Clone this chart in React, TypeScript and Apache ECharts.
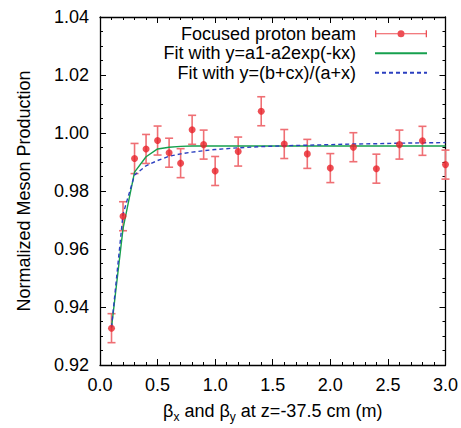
import React, { useEffect, useRef } from "react";
import * as echarts from "echarts";

const betaValues = [0.1, 0.2, 0.3, 0.4, 0.5, 0.6, 0.7, 0.8, 0.9, 1.0, 1.2, 1.4, 1.6, 1.8, 2.0, 2.2, 2.4, 2.6, 2.8, 3.0];
const mesonValues = [0.9327, 0.9713, 0.9912, 0.9945, 0.9974, 0.9932, 0.9896, 1.0011, 0.996, 0.9869, 0.9936, 1.0075, 0.9962, 0.9928, 0.9879, 0.9951, 0.9877, 0.996, 0.9973, 0.9891];
const mesonErrors = [0.005, 0.005, 0.0052, 0.005, 0.005, 0.005, 0.005, 0.005, 0.005, 0.005, 0.005, 0.005, 0.005, 0.005, 0.005, 0.005, 0.005, 0.005, 0.005, 0.005];
const expFitValues = [0.933, 0.967, 0.9865, 0.9918, 0.9945, 0.9951, 0.9954, 0.9955, 0.9955, 0.9955, 0.9955, 0.9955, 0.9955, 0.9955, 0.9955, 0.9955, 0.9955, 0.9955, 0.9955, 0.9955];
const ratFitValues = [0.933, 0.972, 0.9855, 0.9887, 0.9905, 0.992, 0.9928, 0.9934, 0.9939, 0.9943, 0.9949, 0.9953, 0.9956, 0.9958, 0.996, 0.9962, 0.9963, 0.9965, 0.9966, 0.9967];

const seriesNames = ["Focused proton beam", "Fit with y=a1-a2exp(-kx)", "Fit with y=(b+cx)/(a+x)"];

const FONT = "Liberation Sans, Arial, Helvetica, sans-serif";
const RED = "#e8232b";
const RED_BAR = "#ef6f74";
const GREEN = "#16a04e";
const BLUE = "#2b3fc0";

const errIcon =
  "path://M0,1.5H1.3V4.4H22.6V5.6H1.3V8.5H0Z M29.4,4.4H50.7V1.5H52V8.5H50.7V5.6H29.4Z M22.5,5A3.5,3.5 0 1 1 29.5,5A3.5,3.5 0 1 1 22.5,5Z";

export default function App() {
  const ref = useRef<HTMLDivElement>(null);
  useEffect(() => {
    if (!ref.current) return;
    const chart = echarts.init(ref.current, null, { renderer: "svg" });
    const pts = betaValues.map((x, i) => [x, mesonValues[i]]);
    const errData = betaValues.map((x, i) => [x, mesonValues[i], mesonErrors[i]]);
    const axisCommon = { min: 0, max: 3, interval: 0.5 };
    const yCommon = { min: 0.92, max: 1.04, interval: 0.02 };
    const lineCol = { lineStyle: { color: "#000", width: 1.3 } };
    const tickIn = {
      show: true,
      inside: true,
      length: 6,
      lineStyle: { color: "#000", width: 1 },
    };
    const hiddenSym = { color: "rgba(0,0,0,0)", borderWidth: 0 };
    chart.setOption({
      animation: false,
      backgroundColor: "#fff",
      textStyle: { fontFamily: FONT },
      grid: { left: 100, right: 10, top: 17, bottom: 60, containLabel: false },
      legend: {
        orient: "vertical",
        right: 33,
        top: 24,
        align: "right",
        padding: 0,
        itemGap: 0,
        itemWidth: 52,
        itemHeight: 8,
        selectedMode: false,
        textStyle: { fontSize: 18, lineHeight: 19.5, color: "#000", fontFamily: FONT, padding: [0, 14, 0, 0] },
        data: [
          { name: seriesNames[0], icon: errIcon, itemStyle: { color: RED } },
          { name: seriesNames[1], itemStyle: hiddenSym },
          { name: seriesNames[2], itemStyle: hiddenSym },
        ],
      },
      xAxis: [
        {
          type: "value",
          ...axisCommon,
          axisLine: { show: true, onZero: false, ...lineCol },
          axisTick: tickIn,
          minorTick: { show: true, splitNumber: 5, length: 3, lineStyle: { color: "#000", width: 1 } },
          splitLine: { show: false },
          axisLabel: {
            fontSize: 18,
            color: "#000",
            margin: 11,
            fontFamily: FONT,
            formatter: (v: number) => v.toFixed(1),
          },
          name: "{b|β}{s|x}{t| and }{b|β}{s|y}{t| at z=-37.5 cm (m)}",
          nameLocation: "middle",
          nameGap: 34,
          nameTextStyle: {
            rich: {
              b: { fontSize: 18, fontFamily: FONT, color: "#000", lineHeight: 24, verticalAlign: "middle" },
              t: { fontSize: 18, fontFamily: FONT, color: "#000", lineHeight: 24, verticalAlign: "middle" },
              s: { fontSize: 12, fontFamily: FONT, color: "#000", lineHeight: 10, verticalAlign: "bottom" },
            },
          },
        },
        {
          type: "value",
          position: "top",
          ...axisCommon,
          axisLine: { show: true, onZero: false, ...lineCol },
          axisTick: tickIn,
          minorTick: { show: true, splitNumber: 5, length: 3, lineStyle: { color: "#000", width: 1 } },
          splitLine: { show: false },
          axisLabel: { show: false },
        },
      ],
      yAxis: [
        {
          type: "value",
          ...yCommon,
          axisLine: { show: true, onZero: false, ...lineCol },
          axisTick: tickIn,
          minorTick: { show: true, splitNumber: 4, length: 3, lineStyle: { color: "#000", width: 1 } },
          splitLine: { show: false },
          axisLabel: {
            fontSize: 18,
            color: "#000",
            margin: 11,
            fontFamily: FONT,
            formatter: (v: number) => v.toFixed(2),
          },
          name: "Normalized Meson Production",
          nameLocation: "middle",
          nameGap: 67,
          nameTextStyle: { fontSize: 18, color: "#000", fontFamily: FONT },
        },
        {
          type: "value",
          position: "right",
          ...yCommon,
          axisLine: { show: true, onZero: false, ...lineCol },
          axisTick: tickIn,
          minorTick: { show: true, splitNumber: 4, length: 3, lineStyle: { color: "#000", width: 1 } },
          splitLine: { show: false },
          axisLabel: { show: false },
        },
      ],
      series: [
        {
          type: "custom",
          name: "errbars",
          data: errData,
          z: 3,
          renderItem: (params: any, api: any) => {
            const x = api.value(0);
            const y = api.value(1);
            const e = api.value(2);
            const top = api.coord([x, y + e]);
            const bot = api.coord([x, y - e]);
            const cw = 4;
            const style = { stroke: RED_BAR, lineWidth: 1.6 };
            return {
              type: "group",
              children: [
                { type: "line", shape: { x1: top[0], y1: top[1], x2: bot[0], y2: bot[1] }, style },
                { type: "line", shape: { x1: top[0] - cw, y1: top[1], x2: top[0] + cw, y2: top[1] }, style },
                { type: "line", shape: { x1: bot[0] - cw, y1: bot[1], x2: bot[0] + cw, y2: bot[1] }, style },
              ],
            };
          },
        },
        {
          type: "line",
          name: seriesNames[1],
          data: betaValues.map((x, i) => [x, expFitValues[i]]),
          showSymbol: false,
          symbol: "none",
          z: 4,
          lineStyle: { color: GREEN, width: 1.4 },
          itemStyle: { color: GREEN },
        },
        {
          type: "line",
          name: seriesNames[2],
          data: betaValues.map((x, i) => [x, ratFitValues[i]]),
          showSymbol: false,
          symbol: "none",
          z: 5,
          lineStyle: { color: BLUE, width: 1.4, type: [4, 3] },
          itemStyle: { color: BLUE },
        },
        {
          type: "scatter",
          name: seriesNames[0],
          data: pts,
          symbol: "circle",
          symbolSize: 7,
          z: 6,
          itemStyle: { color: RED },
        },
      ],
    });
    return () => chart.dispose();
  }, []);
  return <div ref={ref} style={{ width: 461, height: 428, position: "absolute", left: 0, top: 0 }} />;
}
